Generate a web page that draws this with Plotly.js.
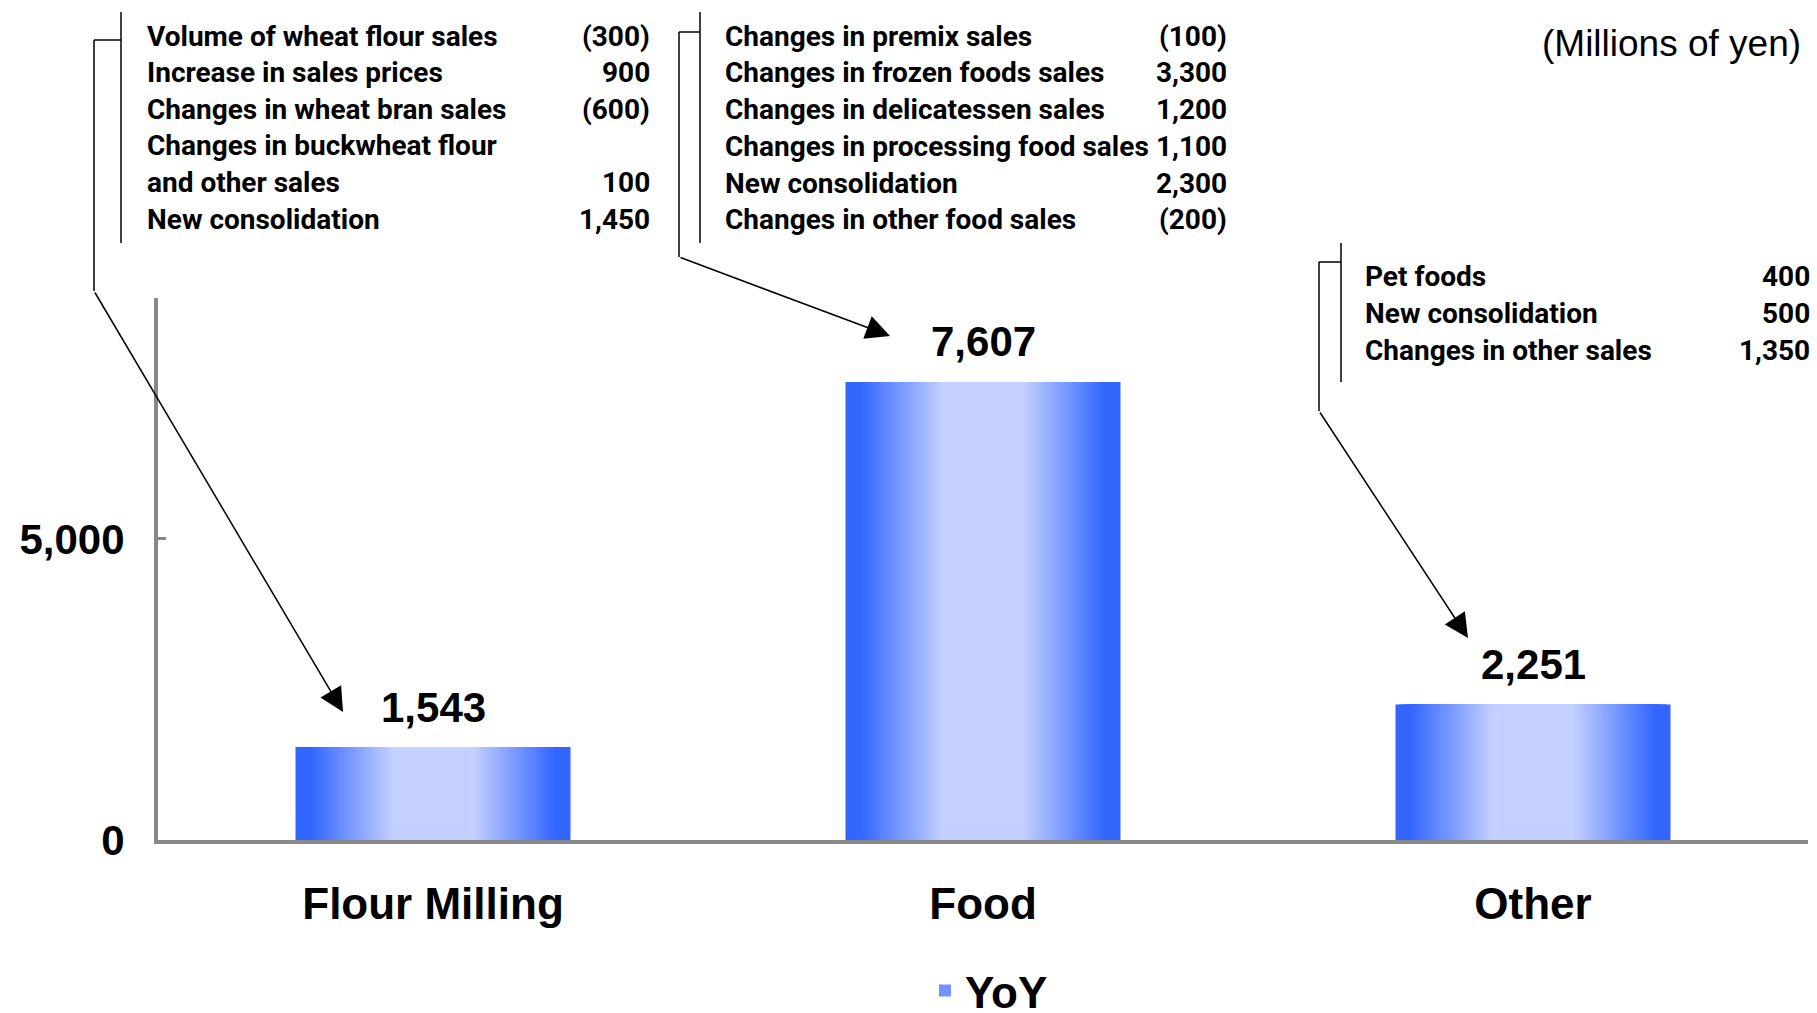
<!DOCTYPE html>
<html>
<head>
<meta charset="utf-8">
<script src="https://cdn.plot.ly/plotly-3.0.1.min.js"></script>
<style>
  html, body { margin: 0; padding: 0; background: #fff; }
  #chart { width: 1817px; height: 1013px; }
</style>
</head>
<body>
<div id="chart"></div>
<script>
// ---------------- data ----------------
const categories = ['Flour Milling', 'Food', 'Other'];
const yoyValues = [1543, 7607, 2251];
const seriesName = 'YoY';
const unitNote = '(Millions of yen)';

const flourLabels = ['Volume of wheat flour sales', 'Increase in sales prices', 'Changes in wheat bran sales',
                     'Changes in buckwheat flour', 'and other sales', 'New consolidation'];
const flourAmounts = ['(300)', '900', '(600)', '', '100', '1,450'];

const foodLabels = ['Changes in premix sales', 'Changes in frozen foods sales', 'Changes in delicatessen sales',
                    'Changes in processing food sales', 'New consolidation', 'Changes in other food sales'];
const foodAmounts = ['(100)', '3,300', '1,200', '1,100', '2,300', '(200)'];

const otherLabels = ['Pet foods', 'New consolidation', 'Changes in other sales'];
const otherAmounts = ['400', '500', '1,350'];

// ---------------- layout geometry ----------------
const FIG_W = 1817, FIG_H = 1013;
const L = 158, T = 298, R = 1808, B = 840;
const PW = R - L, PH = B - T;
const PX = X => (X - L) / PW;
const PY = Y => (B - Y) / PH;

const BOLD = 'Liberation Sans, Arial, Helvetica, sans-serif';
const NARROW = 'Roboto, Liberation Sans, Arial, sans-serif';

// ---------------- gradient bars (overlaid bars of decreasing width) ----------------
const edgeCol = [51, 102, 255];
const midCol = [196, 208, 255];
const N = 40;
const traces = [];
const legendIdx = Math.round(N * 0.35);
for (let k = 0; k < N; k++) {
  const f = 1 - k / N;                 // half-width fraction (1 = edge)
  let t = (0.9 - f) / (0.9 - 0.3);
  t = Math.max(0, Math.min(1, t));
  const c = edgeCol.map((e, i) => Math.round(e + t * (midCol[i] - e)));
  traces.push({
    type: 'bar',
    x: categories,
    y: yoyValues,
    width: 0.5 * f,
    name: seriesName,
    showlegend: k === legendIdx,
    hoverinfo: k === 0 ? 'x+y' : 'skip',
    marker: { color: 'rgb(' + c.join(',') + ')', line: { width: 0 } }
  });
}

// ---------------- annotations ----------------
const annotations = [];

// value labels above bars
categories.forEach((cat, i) => {
  annotations.push({
    xref: 'x', yref: 'y', x: cat, y: yoyValues[i],
    text: yoyValues[i].toLocaleString('en-US'),
    showarrow: false, yanchor: 'middle', yshift: 40,
    font: { family: BOLD, size: 42, color: '#000', weight: 'bold' }
  });
});

function addBlock(labels, amounts, xLeft, xRight, yTop, step) {
  labels.forEach((lab, i) => {
    const y = PY(yTop + i * step);
    annotations.push({
      xref: 'paper', yref: 'paper', x: PX(xLeft), y: y, xanchor: 'left', yanchor: 'middle',
      text: lab, showarrow: false,
      font: { family: NARROW, size: 28, color: '#000', weight: 'bold' }
    });
    if (amounts[i]) {
      annotations.push({
        xref: 'paper', yref: 'paper', x: PX(xRight), y: y, xanchor: 'right', yanchor: 'middle',
        text: amounts[i], showarrow: false,
        font: { family: NARROW, size: 28, color: '#000', weight: 'bold' }
      });
    }
  });
}
addBlock(flourLabels, flourAmounts, 145, 652, 36, 36.6);
addBlock(foodLabels, foodAmounts, 723, 1229, 36, 36.8);
addBlock(otherLabels, otherAmounts, 1363, 1812, 276, 37);

annotations.push({
  xref: 'paper', yref: 'paper', x: PX(1803), y: PY(44), xanchor: 'right', yanchor: 'middle',
  text: unitNote, showarrow: false,
  font: { family: 'Liberation Sans, Arial, sans-serif', size: 37, color: '#000' }
});

// arrows from brackets to bars
function arrow(tailX, tailY, tipX, tipY) {
  annotations.push({
    xref: 'paper', yref: 'paper', x: PX(tipX), y: PY(tipY),
    ax: tailX - tipX, ay: tailY - tipY,
    text: '', showarrow: true, arrowhead: 2, arrowsize: 3.2, arrowwidth: 1.5,
    arrowcolor: '#000', standoff: 0
  });
}
arrow(94, 291, 343, 712);
arrow(679, 257, 890, 336);
arrow(1319, 411, 1468, 638);

// ---------------- bracket shapes ----------------
const shapes = [];
function seg(x0, y0, x1, y1) {
  shapes.push({
    type: 'line', xref: 'paper', yref: 'paper',
    x0: PX(x0), y0: PY(y0), x1: PX(x1), y1: PY(y1),
    line: { color: '#000', width: 1.5 }
  });
}
// block 1
seg(121, 12, 121, 243);
seg(94, 40, 121, 40);
seg(94, 40, 94, 291);
// block 2
seg(700, 12, 700, 243);
seg(679, 32, 700, 32);
seg(679, 32, 679, 257);
// block 3
seg(1341, 243, 1341, 382);
seg(1319, 262, 1341, 262);
seg(1319, 262, 1319, 411);

const layout = {
  width: FIG_W, height: FIG_H,
  paper_bgcolor: '#fff', plot_bgcolor: '#fff',
  margin: { l: L, r: FIG_W - R, t: T, b: FIG_H - B, autoexpand: false },
  barmode: 'overlay',
  showlegend: true,
  legend: {
    orientation: 'h', x: PX(925), y: PY(991), xanchor: 'left', yanchor: 'middle',
    font: { family: BOLD, size: 44, color: '#000', weight: 'bold' },
    bgcolor: 'rgba(0,0,0,0)'
  },
  xaxis: {
    type: 'category', range: [-0.5, 2.5],
    showline: true, linecolor: '#888', linewidth: 4,
    showgrid: false, zeroline: false, ticks: '',
    ticklabelstandoff: 22,
    tickfont: { family: BOLD, size: 44, color: '#000', weight: 'bold' },
    fixedrange: true
  },
  yaxis: {
    range: [0, 9000], tickvals: [0, 5000], tickformat: ',d',
    showline: true, linecolor: '#888', linewidth: 4,
    ticks: 'inside', ticklen: 8, tickwidth: 3, tickcolor: '#888',
    showgrid: false, zeroline: false,
    ticklabelstandoff: 21,
    tickfont: { family: BOLD, size: 42, color: '#000', weight: 'bold' },
    fixedrange: true
  },
  annotations: annotations,
  shapes: shapes
};

Plotly.newPlot('chart', traces, layout, { displayModeBar: false, staticPlot: true });
</script>
</body>
</html>
